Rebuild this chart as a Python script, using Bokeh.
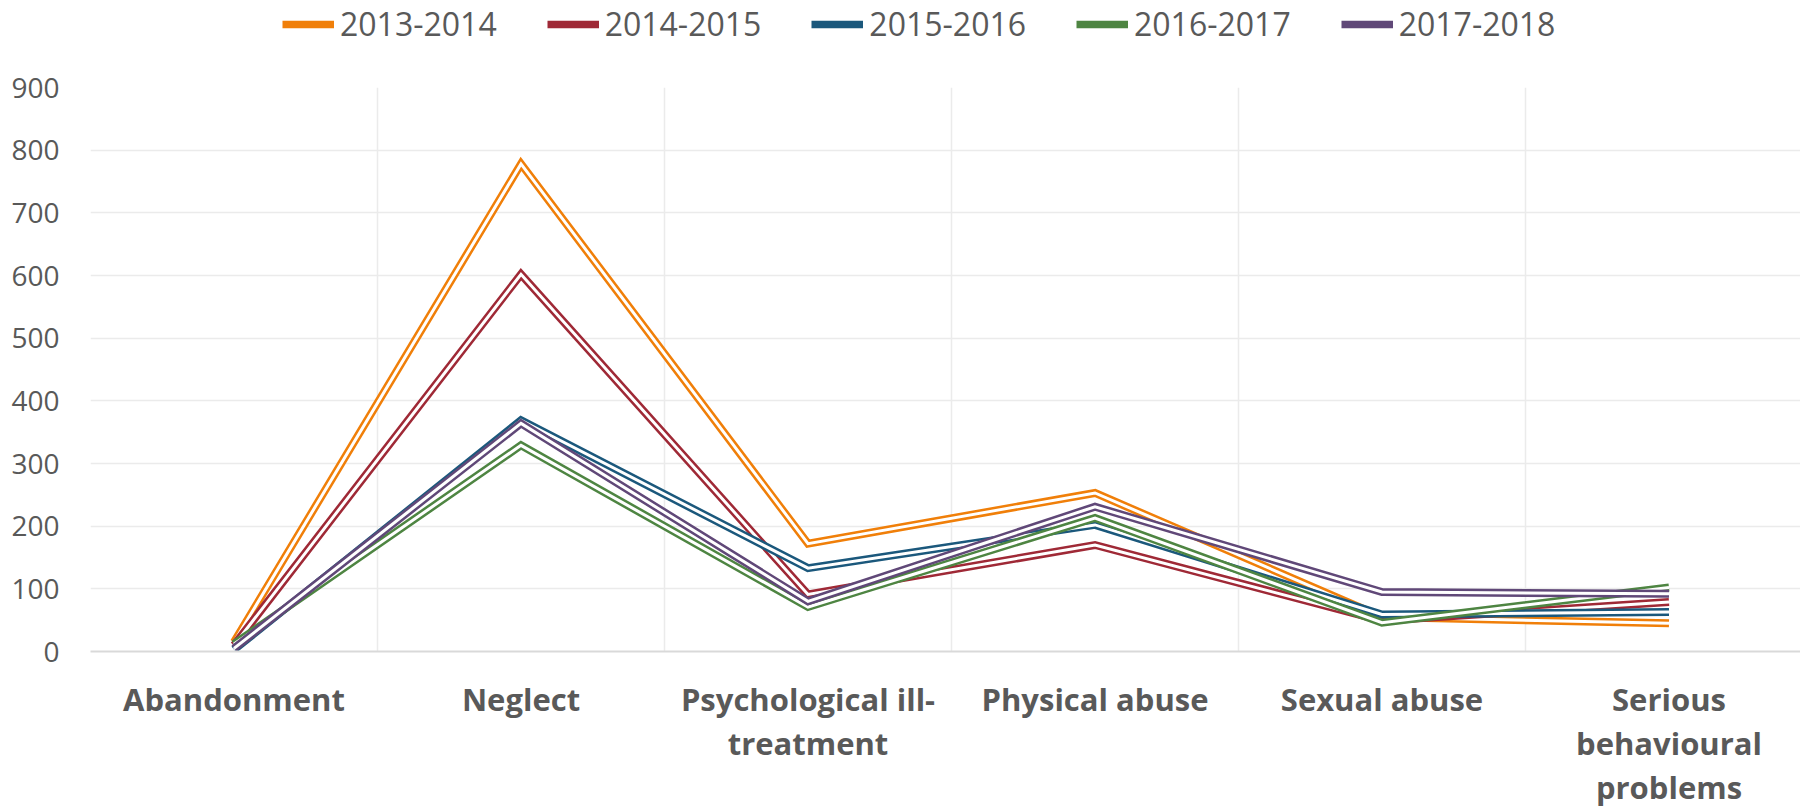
from bokeh.plotting import figure
from bokeh.layouts import column
from bokeh.models import Legend, LegendItem, FixedTicker, ColumnDataSource
from bokeh.embed import file_html
from bokeh.resources import INLINE

categories = ["Abandonment", "Neglect", "Psychological ill-\ntreatment",
              "Physical abuse", "Sexual abuse", "Serious\nbehavioural\nproblems"]
series_names = ["2013-2014", "2014-2015", "2015-2016", "2016-2017", "2017-2018"]
v_2013_2014 = [15, 778, 172, 253, 55, 45]
v_2014_2015 = [10, 602, 91, 170, 49, 79]
v_2015_2016 = [3, 369, 133, 202, 59, 63]
v_2016_2017 = [12, 329, 71, 213, 46, 102]
v_2017_2018 = [5, 364, 80, 231, 95, 92]
series_values = [v_2013_2014, v_2014_2015, v_2015_2016, v_2016_2017, v_2017_2018]
colors = ["#F07F09", "#9F2936", "#1B587C", "#4E8542", "#604878"]
y_ticks = [0, 100, 200, 300, 400, 500, 600, 700, 800, 900]

W = 1800
LEG_H = 50
H = 810 - LEG_H
LEFT, TOP, FRAME_H, CAT_W = 90, 87 - LEG_H, 566, 287
xpos = [i + 0.5 for i in range(len(categories))]

# ---- legend strip (its lines lie outside its own y range; only the legend shows) ----
lf = figure(width=W, height=LEG_H, x_range=(0, (W - LEFT) / CAT_W), y_range=(1000, 1001),
            output_backend="svg", toolbar_location=None,
            min_border_left=0, min_border_right=0, min_border_top=0, min_border_bottom=0)
lf.axis.visible = False
lf.grid.visible = False
lf.outline_line_color = None
lf.background_fill_color = "white"
lf.border_fill_color = "white"

# ---- main chart ----
p = figure(width=W, height=H, x_range=(0, (W - LEFT) / CAT_W), y_range=(0, 900),
           output_backend="svg", toolbar_location=None,
           min_border_left=LEFT, min_border_right=0, min_border_top=TOP,
           min_border_bottom=H - TOP - FRAME_H)
p.outline_line_color = None
p.background_fill_color = "white"
p.border_fill_color = "white"

p.yaxis.ticker = FixedTicker(ticks=y_ticks)
p.yaxis.axis_line_color = None
p.yaxis.major_tick_line_color = None
p.yaxis.minor_tick_line_color = None
p.yaxis.major_tick_out = 0
p.yaxis.major_tick_in = 0
p.yaxis.major_label_standoff = 31
p.yaxis.major_label_text_font = "Open Sans"
p.yaxis.major_label_text_font_size = "28px"
p.yaxis.major_label_text_color = "#595959"

p.xaxis.ticker = FixedTicker(ticks=xpos)
p.xaxis.major_label_overrides = {x: c for x, c in zip(xpos, categories)}
p.xaxis.major_label_text_font = "Open Sans"
p.xaxis.major_label_text_font_style = "bold"
p.xaxis.major_label_text_font_size = "31px"
p.xaxis.major_label_text_color = "#595959"
p.xaxis.major_label_text_line_height = 1.05
p.xaxis.major_label_standoff = 26
p.xaxis.major_tick_line_color = None
p.xaxis.minor_tick_line_color = None
p.xaxis.major_tick_out = 0
p.xaxis.major_tick_in = 0
p.xaxis.axis_line_color = "#D9D9D9"
p.xaxis.axis_line_width = 2

p.ygrid.ticker = FixedTicker(ticks=y_ticks)
p.ygrid.grid_line_color = "#EBEBEB"
p.ygrid.grid_line_width = 1.5
p.xgrid.ticker = FixedTicker(ticks=[0, 1, 2, 3, 4, 5, 6])
p.xgrid.grid_line_color = "#EBEBEB"
p.xgrid.grid_line_width = 1.5

items = []
for name, vals, col in zip(series_names, series_values, colors):
    src = ColumnDataSource(dict(x=xpos, y=vals))
    p.line("x", "y", source=src, line_color=col, line_width=8, line_join="miter")
    p.line("x", "y", source=src, line_color="white", line_width=3, line_join="miter")
    r = lf.line("x", "y", source=src, line_color=col, line_width=7.5)
    items.append(LegendItem(label=name, renderers=[r]))

legend = Legend(items=items, orientation="horizontal", location=(192, LEG_H - 25 - 20),
                glyph_width=52, glyph_height=40, label_height=40, label_standoff=6,
                spacing=50, padding=0, margin=0,
                label_text_font="Open Sans", label_text_font_size="32px",
                label_text_color="#595959", border_line_color=None,
                background_fill_alpha=0)
lf.add_layout(legend, "center")

layout = column(lf, p, spacing=0)
open("out.html", "w").write(file_html(layout, INLINE))
